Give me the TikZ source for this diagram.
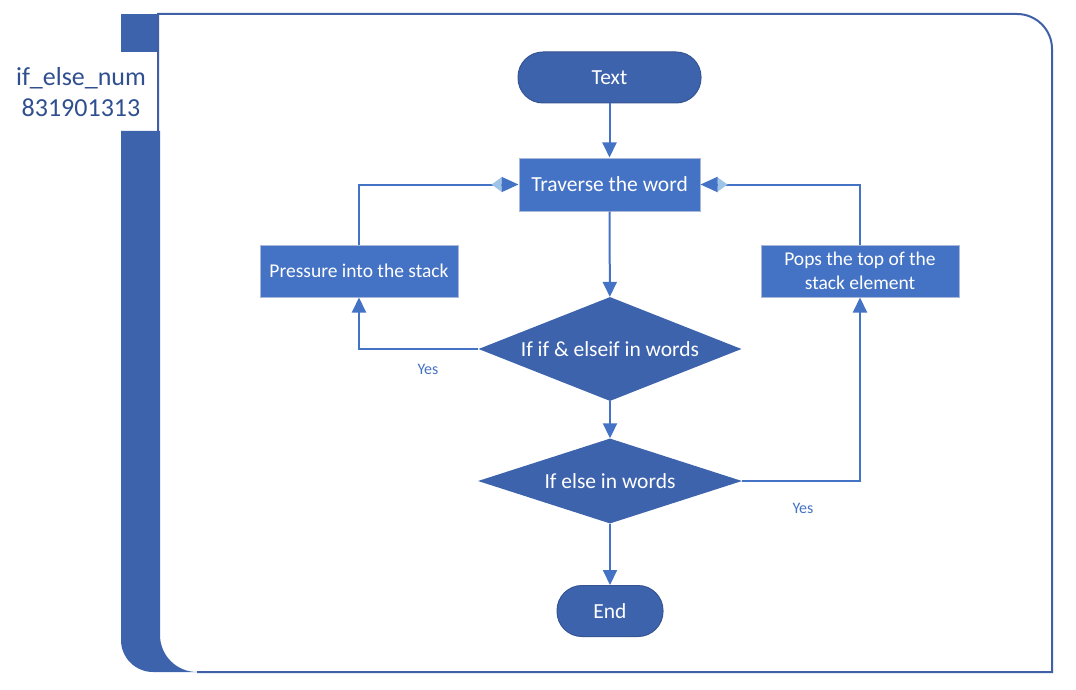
\documentclass[tikz,border=0pt]{standalone}
\usepackage{fontspec}
\setmainfont{Carlito}
\usetikzlibrary{arrows.meta,shapes.geometric}
\definecolor{dkblue}{HTML}{3E63AD}
\definecolor{mdblue}{HTML}{4472C4}
\definecolor{frameblue}{HTML}{3F5FA6}
\definecolor{ghost}{HTML}{9DC3E6}
\definecolor{boxedge}{HTML}{A9B8D6}
\definecolor{labelblue}{HTML}{2F4F8F}
\begin{document}
\begin{tikzpicture}[x=1pt,y=-1pt,
 box/.style={rectangle, fill=mdblue, draw=boxedge, line width=1pt, minimum width=198pt, minimum height=52pt, inner sep=0pt, text=white, font=\fontsize{19.5}{23.5}\selectfont, align=center},
 term/.style={rectangle, rounded corners=25pt, fill=dkblue, draw=dkblue!85!black, line width=1pt, minimum height=51pt, inner sep=0pt, text=white, font=\fontsize{21.5}{26}\selectfont},
 decision/.style={diamond, fill=dkblue, draw=none, inner sep=0pt, text=white, font=\fontsize{21.5}{26}\selectfont},
 conn/.style={draw=mdblue, line width=2pt, -{Triangle[length=15pt,width=14pt]}},
 ghostconn/.style={draw=mdblue, line width=2pt, -{Triangle[reversed,length=10pt,width=14pt,color=ghost] Triangle[length=17pt,width=15pt]}},
 yeslabel/.style={text=mdblue, font=\fontsize{16}{19}\selectfont, inner sep=0pt}]
\useasboundingbox (0,0) rectangle (1076,690);
% frame band
\fill[dkblue] (121,14) rectangle (158,52);
\fill[dkblue] (121,131) -- (121,640) arc[start angle=180,end angle=90,radius=32] -- (197,672)
  arc[start angle=90,end angle=180,radius=37] -- (160,131) -- cycle;
\draw[frameblue, line width=2pt] (158,131) -- (158,14) -- (1017,14) arc[start angle=-90,end angle=0,radius=35] -- (1052,672) -- (197,672);
\node[text=labelblue, font=\fontsize{26}{31}\selectfont, align=center, inner sep=0pt] (lbl) at (81,92) {if\_else\_num\\831901313};
% nodes
\node[term, minimum width=183pt] (start) at (609.5,77.5) {Text};
\node[box, minimum width=181pt, minimum height=53pt, font=\fontsize{21.5}{26}\selectfont] (trav) at (609.5,184.5) {Traverse the word};
\node[box] (press) at (359,271) {Pressure into the stack};
\node[box] (pops) at (860,271) {Pops the top of the\\stack element};
\node[decision, minimum width=263pt, minimum height=104pt, aspect=2.5] (d1) at (610,349) {If if \& elseif in words};
\node[decision, minimum width=264pt, minimum height=85pt, aspect=3.1] (d2) at (610,481) {If else in words};
\node[term, minimum width=106pt] (end) at (610,611) {End};
% connectors
\draw[conn] (start) -- (trav);
\draw[conn] (trav) -- (d1);
\draw[conn] (d1) -- (d2);
\draw[conn] (d2) -- (end);
\draw[conn] (d1.west) -| (press.south);
\draw[ghostconn] (press.north) |- (trav.west);
\draw[conn] (d2.east) -| (pops.south);
\draw[ghostconn] (pops.north) |- (trav.east);
\node[yeslabel] (yes1) at (428,369) {Yes};
\node[yeslabel] (yes2) at (803,508) {Yes};
\end{tikzpicture}
\end{document}
